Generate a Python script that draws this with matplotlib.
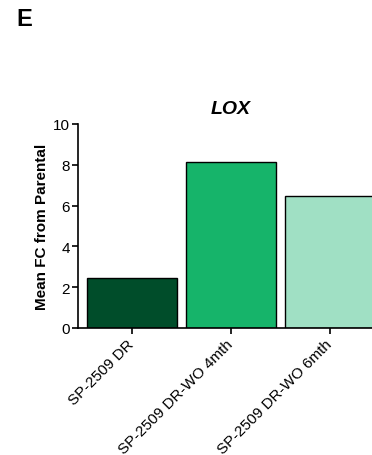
import matplotlib
matplotlib.use('Agg')
from matplotlib import pyplot as plt

plt.rcParams['font.family'] = ['Liberation Sans', 'DejaVu Sans']

groups = ['SP-2509 DR', 'SP-2509 DR-WO 4mth', 'SP-2509 DR-WO 6mth']
mean_fc = [2.45, 8.15, 6.45]
colors = ['#004d2a', '#16b46a', '#a0e0c4']

fig = plt.figure(figsize=(3.72, 4.56), dpi=100)
W, H = 372, 456
# axes runs off the right edge, so the last bar gets cut
ax = fig.add_axes([78 / W, 1 - 329 / H, 301.5 / W, 204 / H])

ax.bar(range(len(groups)), mean_fc, width=0.91, color=colors,
       edgecolor='black', linewidth=1.0)

ax.set_xlim(-0.545, 2.5)
ax.set_ylim(0, 10)
ax.set_yticks([0, 2, 4, 6, 8, 10])
ax.set_xticks(range(len(groups)))
ax.set_xticklabels(groups, rotation=45, ha='right', va='center',
                   rotation_mode='anchor')
ax.tick_params(axis='both', labelsize=11, width=1.2, length=4, direction='out')
ax.tick_params(axis='x', pad=6)
ax.tick_params(axis='y', pad=2)

for side in ['top', 'right']:
    ax.spines[side].set_visible(False)
for side in ['left', 'bottom']:
    ax.spines[side].set_linewidth(1.2)

ax.set_ylabel('Mean FC from Parental', fontsize=11, fontweight='bold', labelpad=3)
ax.set_title('LOX', fontsize=14, fontweight='bold', style='italic', pad=8,
             x=(231 - 78) / 301.5)

fig.text(16 / W, 1 - 19 / H, 'E', fontsize=17, fontweight='bold', va='center')

fig.savefig('out.png', dpi=100)
